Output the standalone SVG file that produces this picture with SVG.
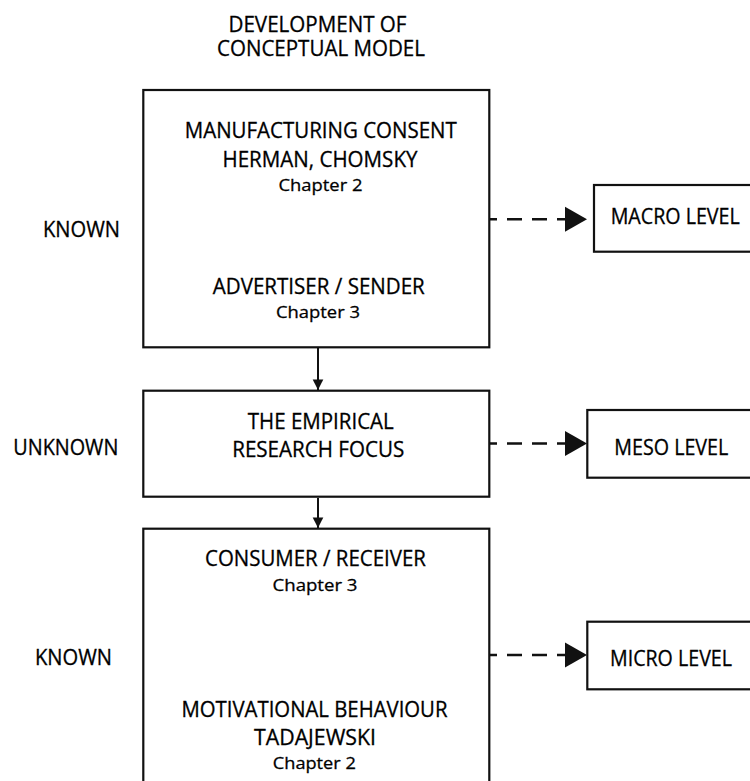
<svg xmlns="http://www.w3.org/2000/svg" width="750" height="781" viewBox="0 0 750 781">
  <style>
    text { font-family: "Open Sans", "Noto Sans", "Liberation Sans", sans-serif; fill: #000; stroke: #000; stroke-width: 0.3; }
    .t { font-size: 21px; }
    .c { font-size: 17px; }
    .mid { text-anchor: middle; }
    .box { fill: #fff; stroke: #111; stroke-width: 2.2; }
    .solid { stroke: #111; stroke-width: 2; fill: none; }
    .dash { stroke: #111; stroke-width: 2.5; fill: none; stroke-dasharray: 15 10; }
  </style>
  <defs>
    <marker id="tri" markerUnits="userSpaceOnUse" markerWidth="24" markerHeight="26" refX="0" refY="12.5" orient="auto" overflow="visible">
      <path d="M0,0 L22,12.5 L0,25 Z" fill="#111"/>
    </marker>
    <marker id="head" markerUnits="userSpaceOnUse" markerWidth="12" markerHeight="12" refX="10.5" refY="5.3" orient="auto" overflow="visible">
      <path d="M0,0 L10.5,5.3 L0,10.6 Z" fill="#111"/>
    </marker>
  </defs>

  <!-- heading -->
  <g id="title">
    <text class="t mid" x="317.5" y="31.7" textLength="178" lengthAdjust="spacingAndGlyphs">DEVELOPMENT OF</text>
    <text class="t mid" x="321" y="56" textLength="208" lengthAdjust="spacingAndGlyphs">CONCEPTUAL MODEL</text>
  </g>

  <!-- side labels -->
  <g id="side-labels">
    <text class="t" x="43" y="237.3" textLength="77" lengthAdjust="spacingAndGlyphs">KNOWN</text>
    <text class="t" x="13.3" y="455" textLength="105" lengthAdjust="spacingAndGlyphs">UNKNOWN</text>
    <text class="t" x="35" y="665" textLength="77" lengthAdjust="spacingAndGlyphs">KNOWN</text>
  </g>

  <!-- connectors -->
  <g id="connectors">
    <line class="solid" x1="318" y1="348" x2="318" y2="390" marker-end="url(#head)"/>
    <line class="solid" x1="318" y1="498" x2="318" y2="528" marker-end="url(#head)"/>
    <line class="dash" x1="482" y1="219.3" x2="565" y2="219.3" marker-end="url(#tri)"/>
    <line class="dash" x1="482" y1="443.5" x2="565" y2="443.5" marker-end="url(#tri)"/>
    <line class="dash" x1="482" y1="655" x2="565" y2="655" marker-end="url(#tri)"/>
  </g>

  <!-- main column -->
  <g id="sender">
    <rect class="box" x="143.3" y="90" width="346" height="257.3"/>
    <text class="t mid" x="320.8" y="138.3" textLength="272" lengthAdjust="spacingAndGlyphs">MANUFACTURING CONSENT</text>
    <text class="t mid" x="320" y="166.7" textLength="195" lengthAdjust="spacingAndGlyphs">HERMAN, CHOMSKY</text>
    <text class="c mid" x="320.5" y="190.7" textLength="84" lengthAdjust="spacingAndGlyphs">Chapter 2</text>
    <text class="t mid" x="318.8" y="294" textLength="212" lengthAdjust="spacingAndGlyphs">ADVERTISER / SENDER</text>
    <text class="c mid" x="318" y="318.3" textLength="84" lengthAdjust="spacingAndGlyphs">Chapter 3</text>
  </g>

  <g id="focus">
    <rect class="box" x="143.3" y="390.7" width="346" height="106"/>
    <text class="t mid" x="320.8" y="429.3" textLength="146" lengthAdjust="spacingAndGlyphs">THE EMPIRICAL</text>
    <text class="t mid" x="318.2" y="456.7" textLength="172" lengthAdjust="spacingAndGlyphs">RESEARCH FOCUS</text>
  </g>

  <g id="receiver">
    <rect class="box" x="143.3" y="528.7" width="346" height="270"/>
    <text class="t mid" x="315.5" y="566" textLength="221" lengthAdjust="spacingAndGlyphs">CONSUMER / RECEIVER</text>
    <text class="c mid" x="315" y="590.7" textLength="85" lengthAdjust="spacingAndGlyphs">Chapter 3</text>
    <text class="t mid" x="314.5" y="717.3" textLength="266" lengthAdjust="spacingAndGlyphs">MOTIVATIONAL BEHAVIOUR</text>
    <text class="t mid" x="315" y="745" textLength="122" lengthAdjust="spacingAndGlyphs">TADAJEWSKI</text>
    <text class="c mid" x="314.3" y="769.3" textLength="83" lengthAdjust="spacingAndGlyphs">Chapter 2</text>
  </g>

  <!-- level boxes -->
  <g id="macro">
    <rect class="box" x="594" y="185" width="170" height="66.7"/>
    <text class="t" x="610.7" y="224" textLength="129" lengthAdjust="spacingAndGlyphs">MACRO LEVEL</text>
  </g>
  <g id="meso">
    <rect class="box" x="587.3" y="410" width="180" height="67.7"/>
    <text class="t" x="614.3" y="455" textLength="114" lengthAdjust="spacingAndGlyphs">MESO LEVEL</text>
  </g>
  <g id="micro">
    <rect class="box" x="587.3" y="621.7" width="180" height="67.6"/>
    <text class="t" x="610" y="666" textLength="122" lengthAdjust="spacingAndGlyphs">MICRO LEVEL</text>
  </g>
</svg>
